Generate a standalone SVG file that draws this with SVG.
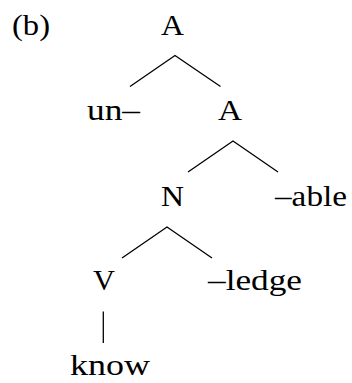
<svg xmlns="http://www.w3.org/2000/svg" width="352" height="383" viewBox="0 0 352 383">
<style>
text{font-family:"Liberation Serif","DejaVu Serif",serif;font-size:29px;fill:#000}
.e{stroke:#000;stroke-width:1.3;fill:none;stroke-linecap:butt}
</style>
<rect width="352" height="383" fill="#fff"/>
<text id="label" x="12" y="35" textLength="38" lengthAdjust="spacingAndGlyphs">(b)</text>
<g id="n-A1"><text x="161" y="35" textLength="23" lengthAdjust="spacingAndGlyphs">A</text></g>
<g id="n-un"><text x="87" y="120" textLength="53" lengthAdjust="spacingAndGlyphs">un–</text></g>
<g id="n-A2"><text x="218" y="120" textLength="24" lengthAdjust="spacingAndGlyphs">A</text></g>
<g id="n-N"><text x="161" y="206" textLength="23" lengthAdjust="spacingAndGlyphs">N</text></g>
<g id="n-able"><text x="275" y="206" textLength="72" lengthAdjust="spacingAndGlyphs">–able</text></g>
<g id="n-V"><text x="93" y="290" textLength="22" lengthAdjust="spacingAndGlyphs">V</text></g>
<g id="n-ledge"><text x="208" y="290" textLength="94" lengthAdjust="spacingAndGlyphs">–ledge</text></g>
<g id="n-know"><text x="70" y="375" textLength="80" lengthAdjust="spacingAndGlyphs">know</text></g>
<g id="edges" class="e">
<path d="M130 86.5 L175 55.5 L220.5 86.5"/>
<path d="M188 172 L233 141 L278 172"/>
<path d="M122 258 L167 227 L212 258"/>
<path d="M103.3 311.5 L103.3 343"/>
</g>
</svg>
